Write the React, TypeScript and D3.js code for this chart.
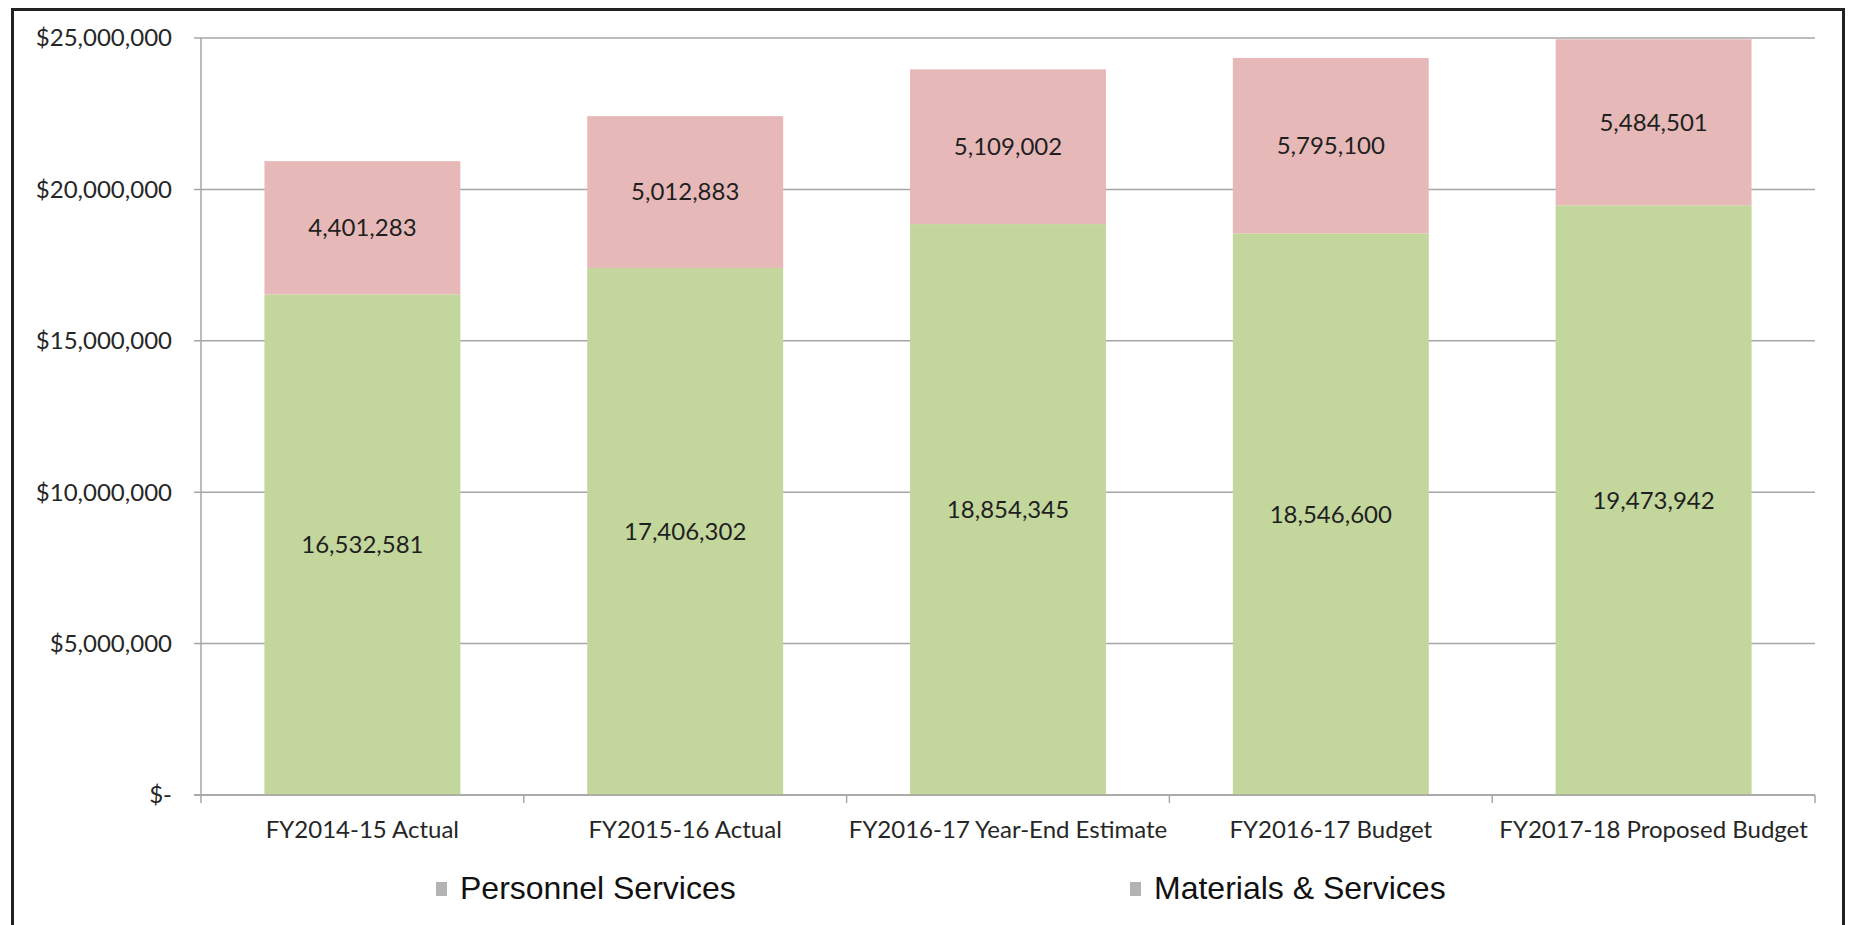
import React from "react";
import * as d3 from "d3";

const categories = [
  "FY2014-15 Actual",
  "FY2015-16 Actual",
  "FY2016-17 Year-End Estimate",
  "FY2016-17 Budget",
  "FY2017-18 Proposed Budget",
];
const personnel = [16532581, 17406302, 18854345, 18546600, 19473942];
const materials = [4401283, 5012883, 5109002, 5795100, 5484501];
const yTicks = [0, 5000000, 10000000, 15000000, 20000000, 25000000];
const seriesNames = ["Personnel Services", "Materials & Services"];
const seriesColors = ["#c3d69b", "#e6b9b8"];

const W = 1851;
const H = 925;
const left = 201;
const right = 1815;
const top = 38;
const bottom = 795;

export default function App() {
  const x = d3
    .scaleBand<string>()
    .domain(categories)
    .range([left, right])
    .paddingInner(0.393)
    .paddingOuter(0.1965);
  const y = d3.scaleLinear().domain([0, 25000000]).range([bottom, top]);
  const step = x.step();
  const fmtTick = (v: number) => (v === 0 ? "$-" : "$" + d3.format(",")(v));
  const fmt = d3.format(",");
  const font = "Lato, 'Open Sans', sans-serif";

  const stacks = categories.map((c, i) => {
    const p = personnel[i];
    const m = materials[i];
    return [
      { y0: 0, y1: p, v: p, color: seriesColors[0] },
      { y0: p, y1: p + m, v: m, color: seriesColors[1] },
    ];
  });

  return (
    <svg
      width={W}
      height={H}
      style={{ position: "absolute", left: 0, top: 0, background: "#fff" }}
    >
      {/* frame */}
      <path
        d={`M12.5,${H + 5} L12.5,9.5 L1843.5,9.5 L1843.5,${H + 5}`}
        fill="none"
        stroke="#222"
        strokeWidth={3}
      />
      {/* gridlines */}
      {yTicks.map((t) => (
        <g key={t}>
          <line
            x1={194}
            x2={right}
            y1={y(t)}
            y2={y(t)}
            stroke="#a6a6a6"
            strokeWidth={1.5}
          />
          <text
            x={172}
            y={y(t)}
            dy="0.35em"
            textAnchor="end"
            fontFamily={font}
            fontSize={24}
            fill="#262626"
          >
            {fmtTick(t)}
          </text>
        </g>
      ))}
      {/* y axis */}
      <line x1={left} x2={left} y1={top} y2={bottom + 8} stroke="#a6a6a6" strokeWidth={1.5} />
      {/* x ticks */}
      {categories.map((c, i) => (
        <line
          key={c}
          x1={(x(c) as number) - step * 0.1965 + step}
          x2={(x(c) as number) - step * 0.1965 + step}
          y1={bottom}
          y2={bottom + 8}
          stroke="#a6a6a6"
          strokeWidth={1.5}
        />
      ))}
      {/* bars */}
      {categories.map((c, i) => (
        <g key={c}>
          {stacks[i].map((s, j) => (
            <rect
              key={j}
              x={x(c)}
              width={x.bandwidth()}
              y={y(s.y1)}
              height={y(s.y0) - y(s.y1)}
              fill={s.color}
            />
          ))}
          {stacks[i].map((s, j) => (
            <text
              key={"l" + j}
              x={(x(c) as number) + x.bandwidth() / 2}
              y={(y(s.y0) + y(s.y1)) / 2}
              dy="0.35em"
              textAnchor="middle"
              fontFamily={font}
              fontSize={24}
              fill="#1f1f1f"
            >
              {fmt(s.v)}
            </text>
          ))}
          <text
            x={(x(c) as number) + x.bandwidth() / 2}
            y={838}
            textAnchor="middle"
            fontFamily={font}
            fontSize={24}
            fill="#262626"
          >
            {c}
          </text>
        </g>
      ))}
      {/* redraw baseline on top */}
      <line x1={194} x2={right} y1={bottom} y2={bottom} stroke="#a6a6a6" strokeWidth={1.5} />
      {/* legend */}
      {seriesNames.map((n, i) => {
        const lx = [436, 1130][i];
        return (
          <g key={n}>
            <rect x={lx} y={882} width={11} height={14} fill="#b3b3b3" />
            <text
              x={lx + 24}
              y={899}
              fontFamily="'Liberation Sans', Arial, sans-serif"
              fontSize={32}
              fill="#111"
            >
              {n}
            </text>
          </g>
        );
      })}
    </svg>
  );
}
